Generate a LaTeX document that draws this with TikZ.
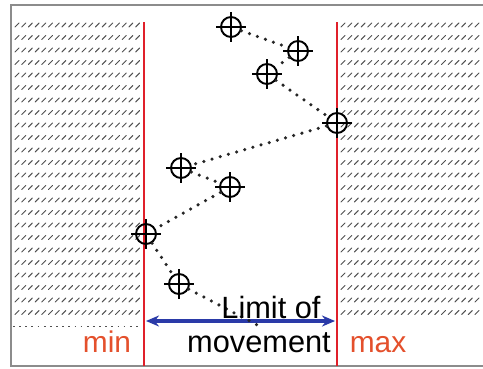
\documentclass[tikz,border=0pt]{standalone}
\usepackage{fontspec}
\setmainfont{Liberation Sans}
\usetikzlibrary{arrows.meta,positioning,calc}
\definecolor{limitred}{HTML}{E0202A}
\definecolor{labelred}{HTML}{E4502C}
\definecolor{arrowblue}{HTML}{2A3AA8}
\definecolor{hatchgray}{HTML}{505050}
\definecolor{framegray}{HTML}{8C8C8C}
\tikzset{
    target/.style={circle,draw=black,line width=1.1pt,
      minimum size=4mm,inner sep=0pt,outer sep=0.6pt},
    trail/.style={draw=black!85,line width=2pt,line cap=round,
      dash pattern=on 0pt off 1.7mm},
    limitline/.style={draw=limitred,line width=1.5pt},
    hatchmark/.style={draw=hatchgray,line width=0.55pt,line cap=round},
    boundlabel/.style={text=labelred,font=\fontsize{17}{20}\selectfont,
      inner sep=0pt,anchor=base},
    rangelabel/.style={font=\fontsize{17.5}{20}\selectfont,
      inner sep=0pt,anchor=base},
    rangearrow/.style={{Stealth[length=2.6mm,width=2.2mm]}-{Stealth[length=2.6mm,width=2.2mm]},
      draw=arrowblue,line width=1.8pt}
}
\begin{document}
\begin{tikzpicture}[x=0.2mm,y=-0.2mm]
  \useasboundingbox (0,0) rectangle (483,368);
  \fill[white] (0,0) rectangle (483,368);
  % frame
  \draw[framegray,line width=1pt] (483,5) -- (11,5) -- (11,366) -- (483,366);
  % hatched regions outside the limits
  \foreach \row in {0,...,23} {
    \foreach \col in {0,...,18}
      \draw[hatchmark] ({15+6.7*\col},{27+12.5*\row}) -- ++(4,-4);
    \foreach \col in {0,...,20}
      \draw[hatchmark] ({341+6.7*\col},{27+12.5*\row}) -- ++(4,-4);
  }
  \draw[hatchgray,line width=0.5pt,dash pattern=on 1pt off 2.5pt] (13,326) -- (142,326);
  % limits
  \draw[limitline] (144,22) -- (144,366);
  \draw[limitline] (337,22) -- (337,366);
  \coordinate (minpt) at (146,321);
  \coordinate (maxpt) at (335,321);
  \draw[rangearrow] (minpt) -- (maxpt);
  % target positions
  \foreach \name/\pos in {t1/{(231,27)},t2/{(298,51)},t3/{(267,74)},t4/{(337,123)},
                          t5/{(181,168)},t6/{(230,187)},t7/{(146,234)},t8/{(179,284)}}
    \node[target] (\name) at \pos {};
  \foreach \i in {1,...,8}
    \draw[line width=1.1pt] ($(t\i)+(-15,0)$) -- ($(t\i)+(15,0)$)
                            ($(t\i)+(0,-15)$) -- ($(t\i)+(0,15)$);
  \coordinate (trailend) at (263,328);
  \draw[trail] (t1) -- (t2) -- (t3) -- (t4) -- (t5) -- (t6) -- (t7) -- (t8) -- (trailend);
  % labels
  \node[rangelabel] (limtext) at (271,318) {Limit of};
  \node[rangelabel] (movtext) at (259,352) {movement};
  \node[boundlabel] (mintext) at (107,352) {min};
  \node[boundlabel] (maxtext) at (378,352) {max};
\end{tikzpicture}
\end{document}
